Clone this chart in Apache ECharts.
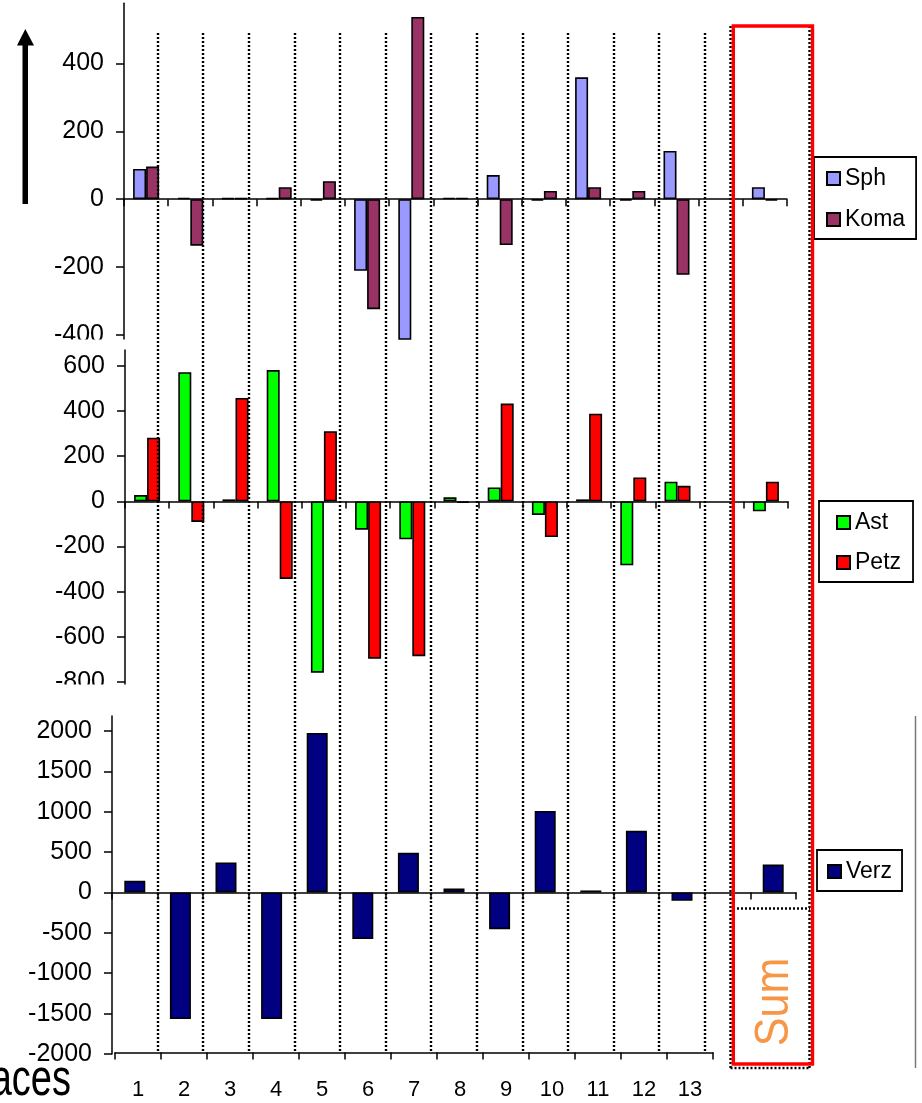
<!DOCTYPE html>
<html><head><meta charset="utf-8">
<script src="https://cdn.jsdelivr.net/npm/echarts@6/dist/echarts.min.js"></script>
<style>html,body{margin:0;padding:0;background:#fff}#c{width:922px;height:1103px}</style>
</head><body><div id="c"></div>
<script>
// ---- data ----
const surfaces = ['1','2','3','4','5','6','7','8','9','10','11','12','13'];
const panelCategories = [...surfaces, '', 'Sum'];
const sph  = [89, 4, 3, 3, -4, -211, -450, 4, 71, -4, 359, -4, 142, null, 35];
const koma = [96, -137, 3, 35, 53, -324, 537, 4, -135, 24, 35, 24, -223, null, -4];
const ast  = [28, 572, 9, 581, -758, -125, -168, 18, 62, -60, 9, -283, 87, null, -44];
const petz = [282, -91, 458, -343, 310, -696, -685, -6, 433, -158, 388, 106, 69, null, 87];
const verz = [144, -1567, 371, -1567, 1975, -577, 491, 49, -454, 1010, 25, 763, -103, null, 346];
const ticksTop = [-400, -200, 0, 200, 400];
const ticksMid = [-800, -600, -400, -200, 0, 200, 400, 600];
const ticksBottom = [-2000, -1500, -1000, -500, 0, 500, 1000, 1500, 2000];
const rangeTop = [-412, 577];
const rangeMid = [-808, 670];
const rangeBottom = [-2000, 2185];
const axisTitle = 'Surfaces';
const sumLabel = 'Sum';

const FONT = '"Liberation Sans", Arial, sans-serif';
const BLACK = '#000';

function yAx(gridIndex, range, ticks) {
  return {
    type: 'value', gridIndex: gridIndex, min: range[0], max: range[1],
    axisLine: {show: true, lineStyle: {color: BLACK, width: 1.5}},
    axisTick: {show: true, length: 8, customValues: ticks, lineStyle: {color: BLACK, width: 1.5}},
    axisLabel: {customValues: ticks, margin: 20, fontSize: 25, color: BLACK, fontFamily: FONT,
      formatter: function (v) { return String(v); }},
    splitLine: {show: false}
  };
}
function xAx(gridIndex) {
  return {
    type: 'category', gridIndex: gridIndex, data: panelCategories,
    axisLine: {onZero: true, lineStyle: {color: BLACK, width: 1.5}},
    axisTick: {show: true, length: 7, interval: 0, lineStyle: {color: BLACK, width: 1.5}},
    axisLabel: {show: false}, splitLine: {show: false}
  };
}
function bar(name, data, color, xi, width) {
  return {
    type: 'bar', name: name, data: data, xAxisIndex: xi, yAxisIndex: xi,
    barWidth: width, barGap: '0%',
    itemStyle: {color: color, borderColor: BLACK, borderWidth: 1.6}
  };
}
function legendAt(names, left, top, padding, gap, textGap) {
  return {
    data: names, left: left, top: top, orient: 'vertical', padding: padding,
    itemGap: gap, itemWidth: 13, itemHeight: 13, itemTextGap: textGap,
    borderColor: BLACK, borderWidth: 1.8, backgroundColor: '#fff',
    selectedMode: false, icon: 'rect',
    textStyle: {fontSize: 23, color: BLACK, fontFamily: FONT}
  };
}
const dotted = {stroke: BLACK, lineWidth: 2.4, lineDash: [2, 2]};

const chart = echarts.init(document.getElementById('c'), null, {renderer: 'canvas'});
chart.setOption({
  animation: false,
  backgroundColor: '#fff',
  textStyle: {fontFamily: FONT},
  grid: [
    {left: 124, top: 3.3, width: 663, height: 335.7},
    {left: 125, top: 350, width: 663, height: 334},
    {left: 112, top: 716, width: 684, height: 338},
    {left: 115, top: 716, width: 598, height: 336.5},
    {left: 112, top: 33, width: 638.4, height: 1019.5}
  ],
  xAxis: [
    xAx(0), xAx(1), xAx(2),
    {
      type: 'category', gridIndex: 3, data: surfaces, position: 'bottom',
      axisLine: {onZero: false, lineStyle: {color: BLACK, width: 1.5}},
      axisTick: {show: true, length: 7, interval: 0, lineStyle: {color: BLACK, width: 1.5}},
      axisLabel: {interval: 0, fontSize: 22, margin: 26, color: BLACK, fontFamily: FONT},
      splitLine: {show: false}
    },
    {
      type: 'category', gridIndex: 4, data: [...surfaces, ''], z: 3,
      axisLine: {show: false}, axisTick: {show: false}, axisLabel: {show: false},
      splitLine: {show: true, interval: 0, showMinLine: false, showMaxLine: false,
        lineStyle: {color: BLACK, width: 2.4, type: [2, 2]}}
    }
  ],
  yAxis: [
    yAx(0, rangeTop, ticksTop), yAx(1, rangeMid, ticksMid), yAx(2, rangeBottom, ticksBottom),
    {type: 'value', gridIndex: 3, show: false, min: 0, max: 1},
    {type: 'value', gridIndex: 4, show: false, min: 0, max: 1}
  ],
  legend: [
    legendAt(['Sph', 'Koma'], 814, 157, [10, 11, 8, 12], 18, 8),
    legendAt(['Ast', 'Petz'], 819, 501, [10, 12, 8, 17], 17, 9),
    legendAt(['Verz'], 817, 850, [10, 10, 8, 10], 10, 8)
  ],
  series: [
    bar('Sph', sph, '#9999FF', 0, 13),
    bar('Koma', koma, '#993366', 0, 13),
    bar('Ast', ast, '#00FF00', 1, 13),
    bar('Petz', petz, '#FF0000', 1, 13),
    bar('Verz', verz, '#000080', 2, 21)
  ],
  graphic: [
    // masks where stacked panels cut each other
    {type: 'rect', z: 100, shape: {x: 0, y: 339.5, width: 121, height: 10}, style: {fill: '#fff'}},
    {type: 'rect', z: 100, shape: {x: 0, y: 684.5, width: 110, height: 30}, style: {fill: '#fff'}},
    // arrow
    {type: 'rect', z: 100, shape: {x: 22.5, y: 44, width: 5.5, height: 160}, style: {fill: BLACK}},
    {type: 'polygon', z: 100, shape: {points: [[17, 45.5], [34, 45.5], [25.3, 29]]}, style: {fill: BLACK}},
    // sum box dotted frame
    {type: 'line', z: 90, shape: {x1: 730.5, y1: 26, x2: 730.5, y2: 1068}, style: dotted},
    {type: 'line', z: 90, shape: {x1: 809.5, y1: 26, x2: 809.5, y2: 1068}, style: dotted},
    {type: 'line', z: 90, shape: {x1: 730.5, y1: 1068, x2: 810, y2: 1068}, style: dotted},
    {type: 'line', z: 90, shape: {x1: 733, y1: 908.5, x2: 810, y2: 908.5}, style: dotted},
    // red frame
    {type: 'rect', z: 95, shape: {x: 733.3, y: 26, width: 79.2, height: 1038}, style: {fill: 'none', stroke: '#FF0000', lineWidth: 3.4}},
    // grey border at right
    {type: 'line', z: 90, shape: {x1: 915.5, y1: 716, x2: 915.5, y2: 1068}, style: {stroke: '#777', lineWidth: 1.5}},
    // Sum label
    {type: 'text', z: 100, x: 775, y: 1002, rotation: Math.PI / 2, scaleY: 1.1,
      style: {text: sumLabel, fill: '#F79646', font: '43px ' + FONT, align: 'center', verticalAlign: 'middle'}},
    // axis title fragment
    {type: 'text', z: 100, x: 71, y: 1081, scaleY: 1.35,
      style: {text: axisTitle, fill: BLACK, font: '38px ' + FONT, align: 'right', verticalAlign: 'middle'}}
  ]
});
</script>
</body></html>
